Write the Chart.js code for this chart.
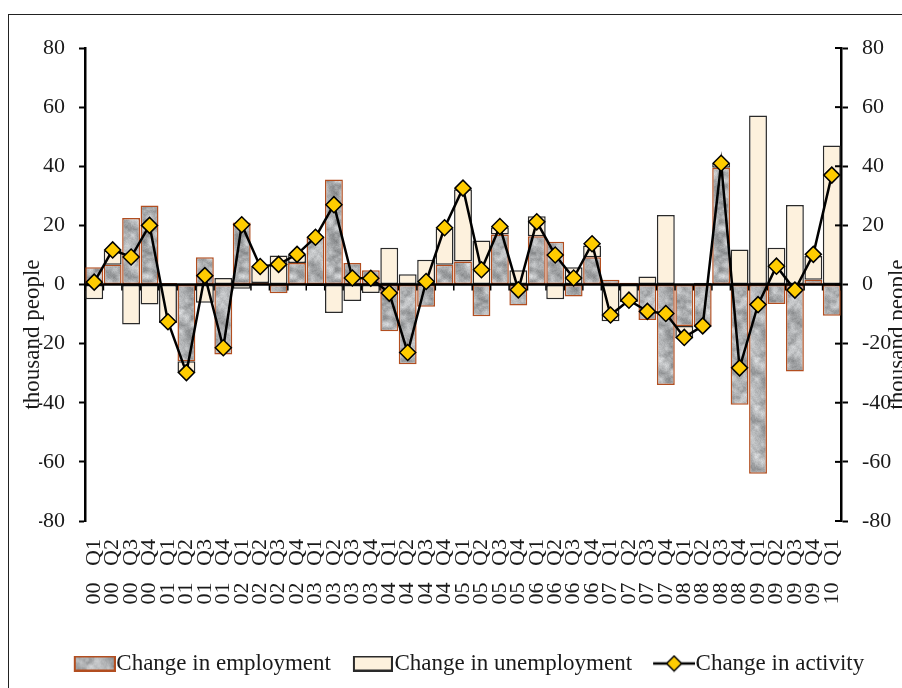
<!DOCTYPE html>
<html>
<head>
<meta charset="utf-8">
<script src="https://cdn.jsdelivr.net/npm/chart.js@4.4.1/dist/chart.umd.min.js"></script>
<style>
  html, body { margin: 0; padding: 0; background: #fff; }
  #wrap { width: 902px; height: 688px; }
</style>
</head>
<body>
<div id="wrap"><canvas id="c" width="902" height="688"></canvas></div>
<script>
// quarters 2000 Q1 .. 2010 Q1
var quarters = ['00 Q1','00 Q2','00 Q3','00 Q4','01 Q1','01 Q2','01 Q3','01 Q4',
  '02 Q1','02 Q2','02 Q3','02 Q4','03 Q1','03 Q2','03 Q3','03 Q4',
  '04 Q1','04 Q2','04 Q3','04 Q4','05 Q1','05 Q2','05 Q3','05 Q4',
  '06 Q1','06 Q2','06 Q3','06 Q4','07 Q1','07 Q2','07 Q3','07 Q4',
  '08 Q1','08 Q2','08 Q3','08 Q4','09 Q1','09 Q2','09 Q3','09 Q4','10 Q1'];

var employment = [5.8, 6.7, 22.5, 26.7, 0.5, -26, 9.2, -23.7,
  21, 0.5, -3, 7.3, 16, 35.5, 7.3, 4.8,
  -15.8, -27, -7.5, 6.7, 7.8, -10.7, 16.9, -7.1,
  16.3, 14.5, -4.1, 9.2, 1.6, 0.6, -12, -34,
  -14, -14.3, 39.5, -40.7, -64, -6.6, -29.4, 1.6, -10.6];

var unemployment = [-5, 4.8, -13.5, -6.8, -13, -4, -6.2, 2.2,
  -1.4, 5.6, 9.8, 2.8, -0.5, -9.6, -5.6, -2.9,
  12.4, 3.5, 8.4, 12.3, 24.4, 14.9, 2.5, 4.8,
  6.8, -5, 5.8, 4, -12.4, -6, 2.7, 23.5,
  -4.3, 0.6, 1.5, 11.8, 57.2, 12.4, 26.9, 8, 47];

var activity = [0.8, 11.7, 9.3, 20, -12.6, -29.8, 3, -21.4,
  20.2, 6.1, 6.8, 10.2, 16, 27, 2.2, 2.1,
  -2.9, -23, 1, 19.2, 32.6, 5, 19.6, -1.8,
  21.2, 10, 2.2, 13.8, -10.3, -5.3, -9.1, -9.8,
  -17.9, -14, 41, -28.2, -6.8, 6.2, -1.9, 10.2, 37];

var seriesNames = ['Change in employment', 'Change in unemployment', 'Change in activity'];
var yMin = -80, yMax = 80, yStep = 20;
var axisTitle = 'thousand people';

var FONT = "'Liberation Serif', 'Times New Roman', serif";
var TXT = '#1a1a1a';
var empBorder = 'rgb(178,78,32)';
var creamFill = 'rgb(253,241,221)';
var creamBorder = '#2a2a2a';
var diamondFill = '#ffcc00';

// labels in the original have a wide gap between year and quarter
var labels = quarters.map(function (q) { return q.replace(' ', '   '); });

// grey mottled texture for the employment bars (deterministic)
function hash(x, y) {
  var s = Math.sin(x * 12.9898 + y * 78.233) * 43758.5453;
  return s - Math.floor(s);
}
function smooth(x, y, cell, size) {
  var n = size / cell;
  var gx = x / cell, gy = y / cell;
  var x0 = Math.floor(gx), y0 = Math.floor(gy);
  var fx = gx - x0, fy = gy - y0;
  fx = fx * fx * (3 - 2 * fx); fy = fy * fy * (3 - 2 * fy);
  var a = hash(x0 % n, y0 % n), b = hash((x0 + 1) % n, y0 % n);
  var c = hash(x0 % n, (y0 + 1) % n), d = hash((x0 + 1) % n, (y0 + 1) % n);
  return (a * (1 - fx) + b * fx) * (1 - fy) + (c * (1 - fx) + d * fx) * fy;
}
function makeTexture() {
  var size = 48;
  var cv = document.createElement('canvas');
  cv.width = size; cv.height = size;
  var g = cv.getContext('2d');
  var img = g.createImageData(size, size);
  for (var y = 0; y < size; y++) {
    for (var x = 0; x < size; x++) {
      var v = 0.55 * smooth(x, y, 6, size) + 0.3 * smooth(x + 3, y + 5, 3, size) + 0.15 * hash(x, y);
      var c = Math.round(125 + v * 105);
      var i = (y * size + x) * 4;
      img.data[i] = c - 1; img.data[i + 1] = c + 1; img.data[i + 2] = c + 3; img.data[i + 3] = 255;
    }
  }
  g.putImageData(img, 0, 0);
  return cv;
}
var texCanvas = makeTexture();
var texPattern = document.getElementById('c').getContext('2d').createPattern(texCanvas, 'repeat');

// legend swatches (blank margin on the left nudges them right, next to the text)
var SW_PAD = 8;
function swatchEmp() {
  var cv = document.createElement('canvas'); cv.width = 42 + SW_PAD; cv.height = 16;
  var g = cv.getContext('2d');
  g.fillStyle = g.createPattern(texCanvas, 'repeat');
  g.fillRect(SW_PAD + 1, 1, 40, 14);
  g.strokeStyle = empBorder; g.lineWidth = 2; g.strokeRect(SW_PAD + 1, 1, 40, 14);
  return cv;
}
function swatchUnemp() {
  var cv = document.createElement('canvas'); cv.width = 40 + SW_PAD; cv.height = 16;
  var g = cv.getContext('2d');
  g.fillStyle = creamFill; g.fillRect(SW_PAD + 1, 1, 38, 14);
  g.strokeStyle = creamBorder; g.lineWidth = 2; g.strokeRect(SW_PAD + 1, 1, 38, 14);
  return cv;
}
function swatchAct() {
  var cv = document.createElement('canvas'); cv.width = 42 + SW_PAD; cv.height = 18;
  var g = cv.getContext('2d');
  var o = SW_PAD;
  g.strokeStyle = '#000'; g.lineWidth = 2.5;
  g.beginPath(); g.moveTo(o, 9); g.lineTo(o + 42, 9); g.stroke();
  g.beginPath(); g.moveTo(o + 21, 1.5); g.lineTo(o + 28.5, 9); g.lineTo(o + 21, 16.5); g.lineTo(o + 13.5, 9); g.closePath();
  g.fillStyle = diamondFill; g.fill(); g.lineWidth = 1.5; g.stroke();
  return cv;
}
var swatches = [swatchEmp(), swatchUnemp(), swatchAct()];

// frame, zero line, axis tick details, axis titles
var extras = {
  id: 'extras',
  beforeDraw: function (chart) {
    var ctx = chart.ctx;
    ctx.save();
    ctx.strokeStyle = '#222'; ctx.lineWidth = 1;
    ctx.strokeRect(8.5, 14.5, 1200, 1200);
    ctx.restore();
  },
  beforeDatasetDraw: function (chart, args) {
    if (args.index !== 2) return;
    var ctx = chart.ctx, a = chart.chartArea;
    var xs = chart.scales.x, ys = chart.scales.y;
    var zy = ys.getPixelForValue(0);
    ctx.save();
    ctx.strokeStyle = '#000';
    ctx.lineWidth = 2.5;
    ctx.beginPath(); ctx.moveTo(a.left, zy); ctx.lineTo(a.right, zy); ctx.stroke();
    var w = xs.getPixelForValue(1) - xs.getPixelForValue(0);
    ctx.lineWidth = 1.5;
    for (var i = 0; i <= labels.length; i++) {
      var bx = xs.getPixelForValue(0) - w / 2 + i * w;
      ctx.beginPath(); ctx.moveTo(bx, zy); ctx.lineTo(bx, zy + 6); ctx.stroke();
    }
    ctx.restore();
  },
  afterDraw: function (chart) {
    var ctx = chart.ctx, a = chart.chartArea;
    var y2 = chart.scales.y2;
    ctx.save();
    // inner half of the right axis ticks
    ctx.strokeStyle = '#000'; ctx.lineWidth = 2;
    y2.ticks.forEach(function (t) {
      var py = y2.getPixelForValue(t.value);
      ctx.beginPath(); ctx.moveTo(a.right - 6, py); ctx.lineTo(a.right, py); ctx.stroke();
    });
    ctx.fillStyle = TXT;
    ctx.font = '23px ' + FONT;
    ctx.textAlign = 'center'; ctx.textBaseline = 'middle';
    var cy = (a.top + a.bottom) / 2 + 50;
    ctx.translate(33, cy); ctx.rotate(-Math.PI / 2);
    ctx.fillText(axisTitle, 0, 0);
    ctx.setTransform(1, 0, 0, 1, 0, 0);
    ctx.translate(chart.width - 4, cy); ctx.rotate(-Math.PI / 2);
    ctx.fillText(axisTitle, 0, 0);
    ctx.restore();
  }
};

var tickFont = { family: FONT, size: 22 };

new Chart(document.getElementById('c'), {
  data: {
    labels: labels,
    datasets: [
      {
        type: 'bar', label: seriesNames[0], data: employment, order: 1,
        backgroundColor: texPattern, borderColor: empBorder, borderWidth: 1.5,
        borderSkipped: false, stack: 'lab', yAxisID: 'y',
        barPercentage: 0.97, categoryPercentage: 1
      },
      {
        type: 'bar', label: seriesNames[1], data: unemployment, order: 1,
        backgroundColor: creamFill, borderColor: creamBorder, borderWidth: 1.5,
        borderSkipped: false, stack: 'lab', yAxisID: 'y',
        barPercentage: 0.97, categoryPercentage: 1
      },
      {
        type: 'line', label: seriesNames[2], data: activity, order: 0,
        borderColor: '#000', borderWidth: 2.5, tension: 0, stack: 'act', yAxisID: 'y',
        pointStyle: 'rectRot', pointRadius: 8, pointHoverRadius: 8,
        pointBackgroundColor: diamondFill, pointBorderColor: '#000', pointBorderWidth: 1.5
      }
    ]
  },
  options: {
    responsive: false,
    animation: false,
    layout: { padding: { left: 39, right: 0, top: 48, bottom: 3 } },
    plugins: {
      tooltip: { enabled: false },
      legend: {
        position: 'bottom',
        labels: {
          usePointStyle: true,
          pointStyleWidth: 28,
          padding: 24,
          color: TXT,
          font: { family: FONT, size: 23 },
          generateLabels: function (chart) {
            return seriesNames.map(function (n, i) {
              return { text: n, pointStyle: swatches[i], datasetIndex: i,
                fillStyle: 'rgba(0,0,0,0)', strokeStyle: 'rgba(0,0,0,0)', lineWidth: 0, fontColor: TXT };
            });
          }
        }
      }
    },
    scales: {
      x: {
        stacked: true,
        grid: { display: false },
        border: { display: false },
        ticks: { autoSkip: false, minRotation: 90, maxRotation: 90, padding: 10, color: TXT, font: tickFont },
        afterFit: function (s) { s.height = 107; }
      },
      y: {
        position: 'left', stacked: true, min: yMin, max: yMax,
        ticks: { stepSize: yStep, padding: 14, color: TXT, font: tickFont },
        border: { display: true, color: '#000', width: 2.5 },
        grid: { drawOnChartArea: false, tickLength: 6, tickColor: '#000', tickWidth: 2 },
        afterFit: function (s) { s.width = 46; }
      },
      y2: {
        position: 'right', min: yMin, max: yMax,
        ticks: { stepSize: yStep, padding: 14, color: TXT, font: tickFont },
        border: { display: true, color: '#000', width: 2.5 },
        grid: { drawOnChartArea: false, tickLength: 7, tickColor: '#000', tickWidth: 2 },
        afterFit: function (s) { s.width = 61; }
      }
    }
  },
  plugins: [extras]
});
</script>
</body>
</html>
